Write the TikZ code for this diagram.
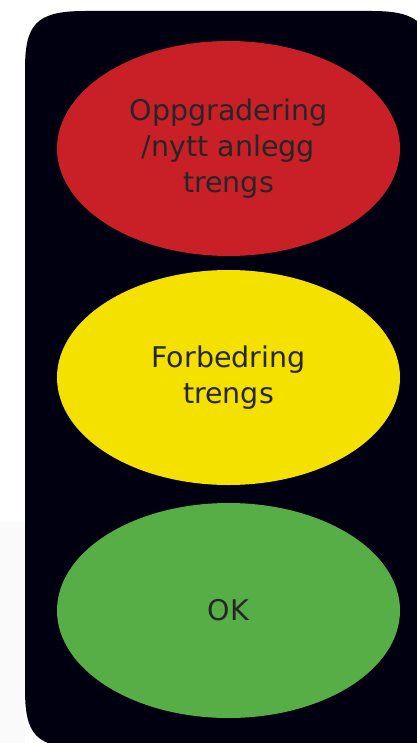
\documentclass[tikz,border=0pt]{standalone}
\usepackage{fontspec}
\setmainfont{DejaVu Sans}
\usetikzlibrary{shapes.geometric,positioning}

\definecolor{housing}{HTML}{000010}
\definecolor{paleside}{HTML}{FAFAFA}
\definecolor{lampred}{HTML}{C91F26}
\definecolor{lampyellow}{HTML}{F5E100}
\definecolor{lampgreen}{HTML}{57AE47}
\definecolor{lamptext}{HTML}{262626}

\tikzset{
    lamp/.style={ellipse, minimum width=343pt, minimum height=215pt,
        inner sep=0pt, outer sep=0pt, align=center, text=lamptext,
        font=\fontsize{28.5}{36}\selectfont}
}

\begin{document}
\begin{tikzpicture}[x=1pt,y=-1pt]
            \useasboundingbox (0,0) rectangle (416,743);
            \fill[fill=paleside] (0,522) rectangle (25,743);
            % housing with soft corners
            \fill[housing] (25,70) .. controls (25,25) and (35,11) .. (85,11)
                -- (372,11) .. controls (420,11) and (432,25) .. (432,70)
                -- (432,700) .. controls (432,740) and (420,752) .. (380,752)
                -- (85,748) .. controls (35,748) and (25,734) .. (25,689) -- cycle;
            \node[lamp, fill=lampred] (red) at (228.5,148.5) {Oppgradering\\/nytt anlegg\\trengs};
            \node[lamp, fill=lampyellow, below=14pt of red] (yellow) {Forbedring\\trengs};
            \node[lamp, fill=lampgreen, below=18pt of yellow] (green) {OK};
        \end{tikzpicture}
\end{document}
